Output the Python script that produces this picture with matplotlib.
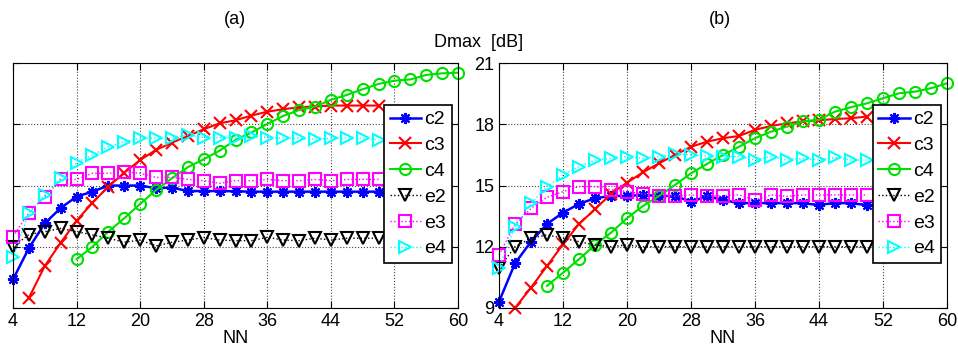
import numpy as np
import matplotlib
matplotlib.use("Agg")
import matplotlib.pyplot as plt

plt.rcParams['font.family'] = ['Liberation Sans', 'DejaVu Sans']

# NN values (the curves behind the legend end at NN = 50)
nn = list(range(4, 52, 2))
nn_c3 = list(range(6, 52, 2))
nn_c4a = list(range(12, 62, 2))
nn_c4b = list(range(10, 62, 2))

# panel (a)
a_c2 = [10.4, 11.94, 13.15, 13.9, 14.46, 14.7, 15.0, 15.0, 15.0, 14.87, 14.9, 14.73, 14.73, 14.73, 14.72,
        14.7, 14.7, 14.7, 14.7, 14.7, 14.7, 14.7, 14.7, 14.7]
a_c3 = [9.5, 11.06, 12.2, 13.28, 14.16, 14.95, 15.63, 16.25, 16.75, 17.1, 17.43, 17.76, 18.05, 18.2,
        18.43, 18.62, 18.74, 18.84, 18.87, 18.92, 18.92, 18.92, 18.92]
a_c4 = [11.39, 12.0, 12.74, 13.4, 14.1, 14.78, 15.36, 15.9, 16.29, 16.71, 17.24, 17.6, 18.02, 18.41,
        18.7, 18.87, 19.2, 19.44, 19.72, 19.98, 20.14, 20.2, 20.42, 20.5, 20.53]
a_e2 = [12.0, 12.6, 12.74, 12.9, 12.74, 12.58, 12.42, 12.22, 12.33, 12.04, 12.22, 12.33, 12.45, 12.33,
        12.3, 12.3, 12.46, 12.33, 12.3, 12.42, 12.33, 12.42, 12.42, 12.42]
a_e3 = [12.5, 13.67, 14.46, 15.3, 15.3, 15.6, 15.6, 15.68, 15.6, 15.4, 15.4, 15.3, 15.24, 15.11, 15.24,
        15.24, 15.3, 15.24, 15.24, 15.3, 15.24, 15.3, 15.3, 15.3]
a_e4 = [11.5, 13.67, 14.54, 15.36, 16.12, 16.5, 16.9, 17.15, 17.32, 17.32, 17.32, 17.48, 17.35, 17.35,
        17.35, 17.43, 17.35, 17.32, 17.32, 17.27, 17.32, 17.32, 17.32, 17.24]

# panel (b)
b_c2 = [9.31, 11.19, 12.25, 13.12, 13.67, 14.1, 14.38, 14.49, 14.49, 14.54, 14.49, 14.49, 14.21, 14.47,
        14.3, 14.13, 14.15, 14.13, 14.15, 14.13, 14.05, 14.15, 14.13, 14.05]
b_c3 = [9.0, 10.0, 11.06, 12.12, 13.12, 13.84, 14.59, 15.14, 15.65, 16.09, 16.5, 16.9, 17.15, 17.32,
        17.43, 17.73, 17.92, 18.05, 18.14, 18.2, 18.26, 18.3, 18.38]
b_c4 = [10.08, 10.73, 11.39, 12.09, 12.69, 13.4, 14.0, 14.49, 15.03, 15.6, 16.06, 16.5, 16.9, 17.32,
        17.64, 17.89, 18.14, 18.22, 18.62, 18.84, 19.03, 19.28, 19.52, 19.6, 19.77, 20.01]
b_e2 = [10.96, 12.0, 12.42, 12.58, 12.42, 12.25, 12.09, 12.0, 12.09, 12.0, 12.0, 12.0, 12.0, 12.0,
        12.0, 12.0, 12.0, 12.0, 12.0, 12.0, 12.0, 12.0, 12.0, 12.0]
b_e3 = [11.6, 13.1, 13.88, 14.43, 14.7, 14.95, 14.95, 14.8, 14.7, 14.59, 14.49, 14.49, 14.54, 14.49,
        14.5, 14.54, 14.29, 14.54, 14.47, 14.54, 14.54, 14.54, 14.54, 14.54]
b_e4 = [10.95, 12.99, 14.13, 14.95, 15.52, 15.93, 16.25, 16.33, 16.42, 16.33, 16.42, 16.55, 16.5, 16.45,
        16.42, 16.42, 16.25, 16.42, 16.25, 16.33, 16.25, 16.38, 16.25, 16.25]

labels = ['c2', 'c3', 'c4', 'e2', 'e3', 'e4']
xticks = [4, 12, 20, 28, 36, 44, 52, 60]
yticks = [9, 12, 15, 18, 21]

asterisk = (8, 2, 0)


def draw(ax, c2, c3, c4, x_c4, e2, e3, e4):
    kw = dict(clip_on=False, markersize=8)
    ax.plot(nn, c2, color='blue', lw=1.8, marker=asterisk, mew=1.5, label=labels[0], **kw)
    ax.plot(nn_c3, c3, color='red', lw=1.5, marker='x', mew=1.5, label=labels[1], **kw)
    ax.plot(x_c4, c4, color='#00e000', lw=1.5, marker='o', mfc='none', mew=1.5, label=labels[2], **kw)
    ax.plot(nn, e2, color='black', lw=1, ls=':', marker='v', mfc='none', mew=1.5, label=labels[3], **kw)
    ax.plot(nn, e3, color='magenta', lw=1, ls=':', marker='s', mfc='none', mew=1.5, label=labels[4], **kw)
    ax.plot(nn, e4, color='cyan', lw=1, ls=':', marker='>', mfc='none', mew=1.5, label=labels[5], **kw)
    ax.set_xlim(4, 60)
    ax.set_ylim(9, 21)
    ax.set_xticks(xticks)
    ax.set_yticks(yticks)
    ax.grid(True, ls=':', color='#444444', lw=0.8)
    ax.tick_params(direction='in', top=True, right=True, labelsize=13, length=5)
    ax.set_xlabel('NN', fontsize=13, labelpad=0)
    leg = ax.legend(loc='upper right', bbox_to_anchor=(0.987, 0.829), fontsize=14,
                    fancybox=False, framealpha=1, edgecolor='black', handlelength=1.6,
                    labelspacing=0.42, borderpad=0.3, handletextpad=0.2, borderaxespad=0)
    leg.get_frame().set_linewidth(1.2)


fig = plt.figure(figsize=(9.58, 3.58), dpi=100)
ax1 = fig.add_axes([0.0136, 0.1397, 0.4645, 0.684])
ax2 = fig.add_axes([0.5209, 0.1397, 0.4676, 0.684])

draw(ax1, a_c2, a_c3, a_c4, nn_c4a, a_e2, a_e3, a_e4)
draw(ax2, b_c2, b_c3, b_c4, nn_c4b, b_e2, b_e3, b_e4)
ax1.set_yticklabels([])

fig.text(0.245, 0.945, '(a)', ha='center', va='center', fontsize=13)
fig.text(0.752, 0.945, '(b)', ha='center', va='center', fontsize=13)
fig.text(0.5, 0.88, 'Dmax  [dB]', ha='center', va='center', fontsize=13)

fig.savefig('out.png', dpi=100)
